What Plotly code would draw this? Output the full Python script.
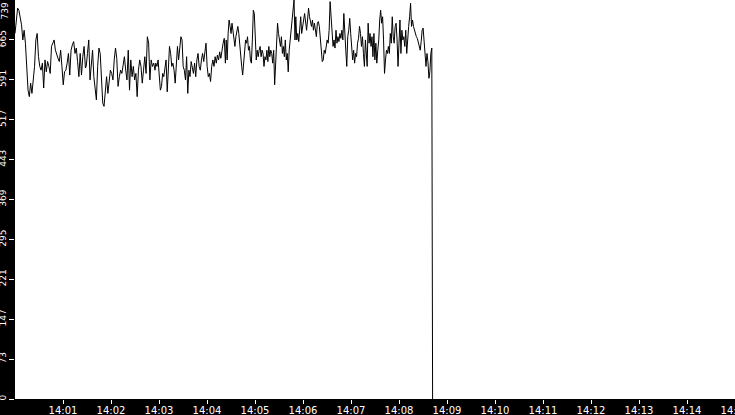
import numpy as np
import pandas as pd
import plotly.graph_objects as go

DAY = "2024-01-01 "

# Segments of readings; each segment spans [start, end] evenly
seg_start = ["14:00:00", "14:01:29", "14:02:56", "14:04:24", "14:05:51", "14:07:19"]
seg_end   = ["14:01:28", "14:02:55", "14:04:23", "14:05:50", "14:07:18", "14:08:41"]

seg1 = [677, 702, 724, 720, 708, 693, 665, 683, 659, 616, 572, 560, 585, 566, 597, 616, 665, 677,
        634, 616, 609, 622, 576, 628, 606, 625, 616, 603, 653, 659, 665, 646, 637, 631, 625, 646,
        616, 582, 606, 609, 622, 640, 600, 646, 656, 662, 640, 650, 625, 597, 640, 600, 634, 653, 613]
seg2 = [616, 640, 665, 591, 616, 646, 597, 579, 554, 616, 650, 640, 585, 548, 542, 579, 597, 566,
        591, 609, 603, 591, 628, 650, 631, 579, 597, 609, 603, 622, 634, 609, 591, 646, 572, 628,
        597, 616, 591, 603, 560, 609, 628, 616, 585, 609, 634, 603, 671, 659, 591, 628, 616, 622, 609]
seg3 = [622, 616, 628, 591, 572, 579, 603, 597, 616, 628, 569, 603, 653, 640, 616, 622, 609, 585,
        622, 653, 628, 659, 671, 665, 616, 609, 591, 634, 566, 609, 597, 625, 616, 603, 622, 597,
        628, 640, 616, 609, 628, 640, 625, 646, 659, 616, 597, 603, 588, 616, 628, 616, 634, 622,
        637, 628, 643, 631, 650, 659, 668, 622]
seg4 = [665, 628, 677, 702, 690, 677, 696, 677, 659, 653, 671, 683, 690, 677, 653, 628, 616, 600,
        622, 646, 665, 659, 671, 646, 653, 628, 622, 665, 720, 714, 677, 628, 646, 634, 646, 653,
        634, 646, 640, 616, 634, 628, 646, 625, 653, 634, 646, 640, 622, 646, 582, 628, 671, 696,
        677, 665, 653, 671, 640, 653, 634, 665, 628, 640, 606, 646, 665, 683, 702, 714, 739, 665]
seg5 = [708, 665, 677, 662, 690, 708, 677, 696, 702, 714, 690, 683, 702, 724, 708, 696, 690, 702,
        683, 696, 677, 671, 696, 699, 690, 671, 643, 625, 628, 646, 640, 656, 665, 659, 683, 736,
        702, 671, 653, 665, 650, 683, 659, 671, 662, 677, 668, 683, 665, 714, 665, 646, 616, 671,
        683, 705, 677, 659, 628, 646, 622, 640, 634, 659, 668, 690, 677, 653, 671, 640, 616, 665]
seg6 = [634, 616, 696, 659, 677, 653, 671, 634, 677, 628, 659, 622, 646, 665, 702, 720, 696, 708,
        665, 603, 628, 646, 640, 653, 640, 677, 659, 708, 671, 659, 690, 696, 665, 616, 659, 702,
        640, 683, 665, 671, 653, 683, 640, 671, 690, 708, 733, 690, 702, 690, 683, 677, 671, 668,
        662, 653, 646, 662, 683, 687, 659, 634, 616, 640, 625, 594, 606, 640, 650]
drop_time = ["14:08:42"]
drop_value = [0]

x_tick_times = ["14:01", "14:02", "14:03", "14:04", "14:05", "14:06", "14:07", "14:08",
                "14:09", "14:10", "14:11", "14:12", "14:13", "14:14", "14:15"]
y_tick_vals = [0, 73.9, 147.8, 221.7, 295.6, 369.5, 443.4, 517.3, 591.2, 665.1]
y_tick_text = ["0", "73", "147", "221", "295", "369", "443", "517", "591", "665"]
y_top_label = "739"
y_max = 739

segs = [seg1, seg2, seg3, seg4, seg5, seg6]
times = []
values = []
for s, e, vals in zip(seg_start, seg_end, segs):
    t0 = pd.Timestamp(DAY + s)
    t1 = pd.Timestamp(DAY + e)
    ts = pd.date_range(t0, t1, periods=len(vals))
    times.extend(list(ts))
    values.extend(vals)
times.extend([pd.Timestamp(DAY + t) for t in drop_time])
values.extend(drop_value)

fig = go.Figure()
fig.add_trace(go.Scatter(x=times, y=values, mode="lines",
                         line=dict(color="black", width=1), hoverinfo="skip"))

fig.update_layout(
    width=735, height=415,
    margin=dict(l=15, r=0, t=0, b=16, autoexpand=False),
    paper_bgcolor="black", plot_bgcolor="white",
    showlegend=False,
    font=dict(family="DejaVu Sans", size=9, color="white"),
)
fig.update_xaxes(
    type="date",
    range=[DAY + "14:00:00", DAY + "14:15:00"],
    tickvals=[DAY + t for t in x_tick_times], ticktext=x_tick_times,
    ticks="outside", ticklen=4, tickcolor="white", tickwidth=1,
    showgrid=False, zeroline=False, showline=False,
    automargin=False, ticklabeloverflow="allow", ticklabelstandoff=-2,
    tickfont=dict(family="DejaVu Sans", size=10, color="white"),
)
fig.update_yaxes(
    range=[0, y_max],
    tickvals=y_tick_vals, ticktext=y_tick_text, tickangle=-90,
    ticks="outside", ticklen=5, tickcolor="white", tickwidth=1,
    showgrid=False, zeroline=False, showline=False,
    automargin=False, ticklabelstandoff=-1,
    tickfont=dict(family="DejaVu Sans", size=9, color="white"),
)
fig.add_annotation(text=y_top_label, xref="paper", yref="paper", x=0, y=1,
                   xanchor="right", yanchor="top", xshift=-4, textangle=-90,
                   showarrow=False, font=dict(family="DejaVu Sans", size=9, color="white"))

fig.write_html("out.html", config={"displayModeBar": False},
               post_script="document.body.style.margin='0px';document.body.style.background='black';")
